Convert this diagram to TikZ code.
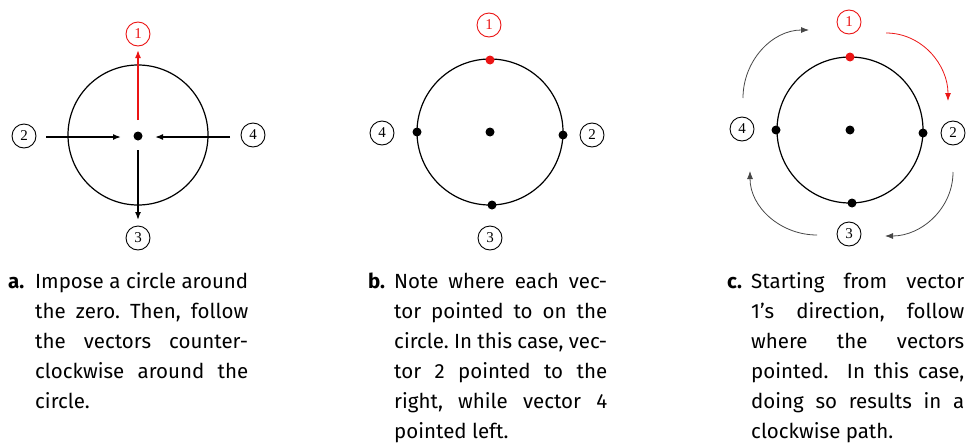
\documentclass[tikz,border=0pt]{standalone}
\usepackage{fontspec}
\setmainfont{Fira Sans}
\newfontfamily\numfont{Liberation Serif}
\usetikzlibrary{arrows.meta}
\definecolor{myred}{RGB}{235,20,20}
\definecolor{mygrey}{RGB}{70,70,70}
\tikzset{
  num/.style={draw, circle, minimum size=24pt, inner sep=0pt, line width=0.9pt, font=\numfont\fontsize{15}{15}\selectfont},
  bigc/.style={draw, line width=1.2pt},
  dot/.style={fill, circle, minimum size=9pt, inner sep=0pt},
  vec/.style={line width=1.5pt, -{Latex[length=8pt,width=6pt]}},
  curv/.style={line width=0.8pt, mygrey, -{Latex[length=8pt,width=6pt]}, looseness=1},
  capt/.style={anchor=base west, inner sep=0pt, font=\frenchspacing\fontsize{20.5}{30}\selectfont},
  lab/.style={anchor=base west, inner sep=0pt, font=\bfseries\fontsize{20.5}{30}\selectfont},
}
\newcommand\cl[1]{\makebox[213pt][s]{#1}}
\begin{document}
\begin{tikzpicture}[x=1pt,y=-1pt]
\useasboundingbox (0,0) rectangle (971,442);
% ---------- panel a ----------
\draw[bigc] (138,135) circle (70);
\node[dot] (a0) at (138,136) {};
\node[num, myred] (a1) at (138,34) {1};
\node[num] (a2) at (24,136) {2};
\node[num] (a3) at (138,238) {3};
\node[num] (a4) at (253,135) {4};
\coordinate (a1s) at (138,120);
\coordinate (a1e) at (138,50);
\coordinate (a2s) at (46,137);
\coordinate (a2e) at (121,137);
\coordinate (a3s) at (138,150);
\coordinate (a3e) at (138,220);
\coordinate (a4s) at (230,137);
\coordinate (a4e) at (155,137);
\draw[vec, myred] (a1s) -- (a1e);
\draw[vec] (a2s) -- (a2e);
\draw[vec] (a3s) -- (a3e);
\draw[vec] (a4s) -- (a4e);
% ---------- panel b ----------
\draw[bigc] (490,132) circle (73);
\node[dot] (b0) at (490,132) {};
\node[dot, myred] (bd1) at (490,60) {};
\node[dot] (bd2) at (563,135) {};
\node[dot] (bd3) at (492,205) {};
\node[dot] (bd4) at (417,132) {};
\node[num, myred] (b1) at (489,25) {1};
\node[num] (b2) at (592,135) {2};
\node[num] (b3) at (490,238) {3};
\node[num] (b4) at (382,133) {4};
% ---------- panel c ----------
\draw[bigc] (850,130) circle (73);
\node[dot] (c0) at (850,130) {};
\node[dot, myred] (cd1) at (850,57) {};
\node[dot] (cd2) at (923,133) {};
\node[dot] (cd3) at (852,203) {};
\node[dot] (cd4) at (776,130) {};
\node[num, myred] (c1) at (849,22) {1};
\node[num] (c2) at (953,133) {2};
\node[num] (c3) at (849,234) {3};
\node[num] (c4) at (742,129) {4};
\coordinate (r1s) at (886,33);
\coordinate (r1e) at (948,101);
\coordinate (k2s) at (953,172);
\coordinate (k2e) at (885,236);
\coordinate (k3s) at (817,235);
\coordinate (k3e) at (750,171);
\coordinate (k4s) at (743,98);
\coordinate (k4e) at (809,30);
\draw[curv, myred] (r1s) to[out=0,in=90] (r1e);
\draw[curv] (k2s) to[out=-90,in=0] (k2e);
\draw[curv] (k3s) to[out=180,in=-90] (k3e);
\draw[curv] (k4s) to[out=90,in=180] (k4e);
% ---------- captions ----------
\node[lab] (la) at (8,288) {a.};
\node[capt] (ta1) at (35,288) {\cl{Impose a circle around}};
\node[capt] (ta2) at (35,318) {\cl{the zero. Then, follow}};
\node[capt] (ta3) at (35,348) {\cl{the vectors counter-}};
\node[capt] (ta4) at (35,378) {\cl{clockwise around the}};
\node[capt] (ta5) at (35,408) {circle.};
\node[lab] (lb) at (368,288) {b.};
\node[capt] (tb1) at (394,288) {\cl{Note where each vec-}};
\node[capt] (tb2) at (394,318) {\cl{tor pointed to on the}};
\node[capt] (tb3) at (394,348) {\cl{circle. In this case, vec-}};
\node[capt] (tb4) at (394,378) {\cl{tor 2 pointed to the}};
\node[capt] (tb5) at (394,408) {\cl{right, while vector 4}};
\node[capt] (tb6) at (394,438) {pointed left.};
\node[lab] (lc) at (727,288) {c.};
\node[capt] (tc1) at (751,288) {\cl{Starting from vector}};
\node[capt] (tc2) at (751,318) {\cl{1’s direction, follow}};
\node[capt] (tc3) at (751,348) {\cl{where the vectors}};
\node[capt] (tc4) at (751,378) {\cl{pointed.\ \ In this case,}};
\node[capt] (tc5) at (751,408) {\cl{doing so results in a}};
\node[capt] (tc6) at (751,438) {clockwise path.};
\end{tikzpicture}
\end{document}
